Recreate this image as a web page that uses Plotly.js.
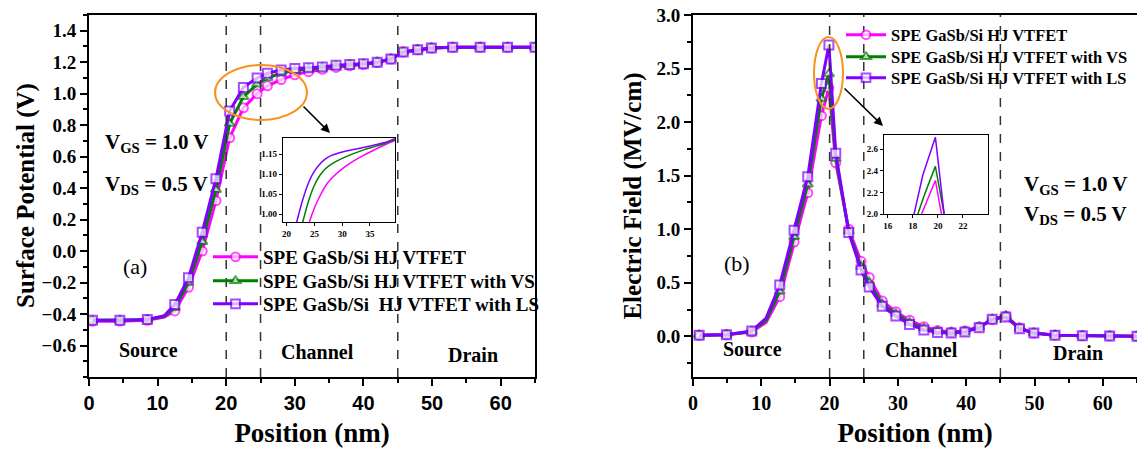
<!DOCTYPE html>
<html>
<head>
<meta charset="utf-8">
<script src="https://cdn.plot.ly/plotly-3.0.1.min.js"></script>
<style>html,body{margin:0;padding:0;background:#fff;}#chart{width:1137px;height:450px;}</style>
</head>
<body>
<div id="chart"></div>
<script>
// ---------- data ----------
const seriesNames = ['SPE GaSb/Si HJ VTFET', 'SPE GaSb/Si HJ VTFET with VS', 'SPE GaSb/Si\u00a0 HJ VTFET with LS'];
const seriesNamesB = ['SPE GaSb/Si HJ VTFET', 'SPE GaSb/Si HJ VTFET with VS', 'SPE GaSb/Si HJ VTFET with LS'];

// (a) surface potential (V) vs position (nm)
const posA = [0.5, 4.5, 8.5, 11, 12.5, 14.5, 16.5, 18.5, 20.5, 22.5, 24.5, 26, 28, 30, 32, 34, 36, 38, 40, 42, 44, 45.8, 47.9, 49.9, 53, 57, 61, 65];
const potBase = [-0.445, -0.445, -0.44, -0.42, -0.38, -0.23, 0.0, 0.32, 0.72, 0.91, 1.0, 1.05, 1.09, 1.12, 1.14, 1.155, 1.167, 1.177, 1.185, 1.198, 1.22, 1.265, 1.28, 1.29, 1.295, 1.295, 1.295, 1.295];
const potVS   = [-0.44, -0.44, -0.437, -0.415, -0.36, -0.2, 0.06, 0.39, 0.81, 0.98, 1.06, 1.10, 1.13, 1.148, 1.158, 1.167, 1.175, 1.182, 1.188, 1.2, 1.22, 1.265, 1.28, 1.29, 1.295, 1.295, 1.295, 1.295];
const potLS   = [-0.44, -0.44, -0.435, -0.41, -0.34, -0.17, 0.12, 0.46, 0.89, 1.04, 1.10, 1.13, 1.15, 1.16, 1.165, 1.17, 1.18, 1.185, 1.19, 1.20, 1.22, 1.265, 1.28, 1.29, 1.295, 1.295, 1.295, 1.295];
const markA = [1,1,1,0,1,1,1,1,1,1,1,1,1,1,1,1,1,1,1,1,1,1,1,1,1,1,1,1];

// (a) inset
const insPosA = [20, 21, 22, 23, 24, 25, 26, 27, 28, 30, 32, 34, 36, 38, 39.5];
const insPotBase = [0.72, 0.79, 0.86, 0.92, 0.975, 1.015, 1.045, 1.07, 1.088, 1.113, 1.132, 1.148, 1.162, 1.175, 1.184];
const insPotVS   = [0.8, 0.87, 0.93, 0.985, 1.035, 1.072, 1.097, 1.113, 1.124, 1.139, 1.151, 1.161, 1.169, 1.178, 1.186];
const insPotLS   = [0.87, 0.93, 0.99, 1.04, 1.08, 1.107, 1.125, 1.138, 1.146, 1.155, 1.161, 1.167, 1.173, 1.18, 1.188];

// (b) electric field (MV/cm) vs position (nm)
const posB = [0.9, 4.9, 8.6, 10.7, 12.7, 14.8, 16.8, 18.8, 19.9, 20.9, 22.8, 24.6, 25.8, 27.7, 29.7, 31.7, 33.8, 35.8, 37.8, 39.8, 41.9, 43.8, 45.8, 47.8, 49.9, 53, 57, 61, 65];
const efBase = [0.01, 0.015, 0.04, 0.13, 0.37, 0.88, 1.34, 2.06, 2.32, 1.62, 1.0, 0.7, 0.55, 0.33, 0.23, 0.15, 0.09, 0.055, 0.04, 0.05, 0.09, 0.155, 0.19, 0.08, 0.03, 0.01, 0.005, 0.003, 0];
const efVS   = [0.01, 0.015, 0.045, 0.15, 0.42, 0.93, 1.42, 2.22, 2.45, 1.66, 0.98, 0.65, 0.5, 0.3, 0.21, 0.13, 0.075, 0.045, 0.035, 0.045, 0.085, 0.16, 0.19, 0.075, 0.03, 0.01, 0.005, 0.003, 0];
const efLS   = [0.01, 0.015, 0.05, 0.17, 0.48, 0.99, 1.49, 2.36, 2.72, 1.71, 0.97, 0.62, 0.46, 0.28, 0.19, 0.11, 0.06, 0.035, 0.03, 0.04, 0.08, 0.16, 0.18, 0.07, 0.03, 0.01, 0.005, 0.003, 0];
const markB = [1,1,1,0,1,1,1,1,1,1,1,1,1,1,1,1,1,1,1,1,1,1,1,1,1,1,1,1,1];

// (b) inset
const insPosBBase = [18.2, 18.7, 19.8, 20.3, 20.6];
const insEfBase   = [1.8, 2.0, 2.31, 2.0, 1.8];
const insPosBVS   = [17.8, 18.4, 19.0, 19.8, 20.5, 20.8];
const insEfVS     = [1.75, 2.0, 2.2, 2.44, 2.0, 1.8];
const insPosBLS   = [17.6, 18.1, 18.8, 19.8, 20.5, 20.8];
const insEfLS     = [1.7, 2.0, 2.36, 2.71, 2.0, 1.7];

const tickA_x = [0, 10, 20, 30, 40, 50, 60];
const tickA_y = [-0.6, -0.4, -0.2, 0.0, 0.2, 0.4, 0.6, 0.8, 1.0, 1.2, 1.4];
const tickB_y = [0.0, 0.5, 1.0, 1.5, 2.0, 2.5, 3.0];
const regionBounds = [20, 25, 45];

// ---------- styling ----------
const colors = ['#FF00FF', '#008000', '#7F00FF'];
const symbols = ['circle', 'triangle-up', 'square'];
const SERIF = 'Liberation Serif, Times New Roman, serif';
const SANS = 'Liberation Sans, Arial, sans-serif';
const W = 1137, H = 450;
const px = v => v / W, py = v => (H - v) / H;

const legA = ['legend', 'legend3', 'legend4'];
const legB = ['legend2', 'legend5', 'legend6'];
const traces = [];
const aY = [potBase, potVS, potLS];
const bY = [efBase, efVS, efLS];
for (let i = 0; i < 3; i++) {
  traces.push({
    x: posA, y: aY[i], xaxis: 'x', yaxis: 'y', type: 'scatter', mode: 'lines+markers',
    name: seriesNames[i], legend: legA[i],
    line: {color: colors[i], width: 3},
    marker: {symbol: symbols[i], size: markA.map(m => m ? 9 : 0), color: 'white', line: {color: colors[i], width: 2}}
  });
}
for (let i = 0; i < 3; i++) {
  traces.push({
    x: posB, y: bY[i], xaxis: 'x2', yaxis: 'y2', type: 'scatter', mode: 'lines+markers',
    name: seriesNamesB[i], legend: legB[i],
    line: {color: colors[i], width: 3},
    marker: {symbol: symbols[i], size: markB.map(m => m ? 9 : 0), color: 'white', line: {color: colors[i], width: 2}}
  });
}
const insA = [insPotBase, insPotVS, insPotLS];
for (let i = 0; i < 3; i++) {
  traces.push({x: insPosA, y: insA[i], xaxis: 'x3', yaxis: 'y3', type: 'scatter', mode: 'lines',
    showlegend: false, line: {color: colors[i], width: 1.5, shape: 'spline', smoothing: 0.8}});
}
const insBx = [insPosBBase, insPosBVS, insPosBLS];
const insBy = [insEfBase, insEfVS, insEfLS];
for (let i = 0; i < 3; i++) {
  traces.push({x: insBx[i], y: insBy[i], xaxis: 'x4', yaxis: 'y4', type: 'scatter', mode: 'lines',
    showlegend: false, line: {color: colors[i], width: 1.5}});
}

function mainAxis(extra) {
  return Object.assign({
    showgrid: false, zeroline: false, showline: true, linecolor: 'black', linewidth: 2, mirror: true,
    ticks: 'outside', ticklen: 7, tickwidth: 2, tickcolor: 'black'
  }, extra);
}
function insetAxis(extra) {
  return Object.assign({
    showgrid: false, zeroline: false, showline: true, linecolor: 'black', linewidth: 1.2, mirror: true,
    ticks: 'outside', ticklen: 3, tickwidth: 1, tickcolor: 'black',
    tickfont: {family: SERIF, size: 9, weight: 'bold', color: 'black'}
  }, extra);
}

const shapes = [];
regionBounds.forEach(b => {
  shapes.push({type: 'line', xref: 'x', yref: 'y domain', x0: b, x1: b, y0: 0, y1: 1, line: {color: '#333', width: 1.5, dash: 'dash'}});
  shapes.push({type: 'line', xref: 'x2', yref: 'y2 domain', x0: b, x1: b, y0: 0, y1: 1, line: {color: '#333', width: 1.5, dash: 'dash'}});
});
shapes.push({type: 'circle', xref: 'paper', yref: 'paper', x0: px(215), x1: px(307), y0: py(120), y1: py(65), line: {color: '#F7931E', width: 2}});
shapes.push({type: 'circle', xref: 'paper', yref: 'paper', x0: px(814), x1: px(843), y0: py(109), y1: py(37), line: {color: '#F7931E', width: 2}});

const bold = (size) => ({family: SERIF, size: size, weight: 'bold', color: 'black'});
function label(text, x, y, size, anchor, weight) {
  return {text: text, xref: 'paper', yref: 'paper', x: px(x), y: py(y), xanchor: anchor || 'center', yanchor: 'middle',
    showarrow: false, font: {family: SERIF, size: size, weight: weight || 'bold', color: 'black'}};
}
const yTitleA = label('Surface Potential (V)', 26, 196, 25);
yTitleA.textangle = -90;
const annotations = [
  yTitleA,
  label('V<sub>GS</sub> = 1.0 V', 103, 143, 21, 'left'),
  label('V<sub>DS</sub> = 0.5 V', 103, 185, 21, 'left'),
  label('V<sub>GS</sub> = 1.0 V', 1022, 185, 21, 'left'),
  label('V<sub>DS</sub> = 0.5 V', 1022, 215, 21, 'left'),
  label('(a)', 135, 267, 22, 'center', 'normal'),
  label('(b)', 737, 263, 22, 'center', 'normal'),
  label('Source', 148, 350, 20), label('Channel', 317, 352, 20), label('Drain', 473, 355, 20),
  label('Source', 752, 349, 20), label('Channel', 921, 350, 20), label('Drain', 1078, 353, 20),
  {text: '', xref: 'paper', yref: 'paper', x: px(330), y: py(133), ax: -28, ay: -28, axref: 'pixel', ayref: 'pixel',
   showarrow: true, arrowhead: 2, arrowsize: 1.2, arrowwidth: 1.5, arrowcolor: 'black'},
  {text: '', xref: 'paper', yref: 'paper', x: px(883), y: py(126), ax: -40, ay: -39, axref: 'pixel', ayref: 'pixel',
   showarrow: true, arrowhead: 2, arrowsize: 1.2, arrowwidth: 1.5, arrowcolor: 'black'}
];

function legendAt(x, yc, size, iw) {
  return {x: px(x), y: py(yc), xanchor: 'left', yanchor: 'middle', bgcolor: 'rgba(0,0,0,0)', borderwidth: 0,
    font: {family: SERIF, size: size, weight: 'bold', color: 'black'}, itemwidth: iw, tracegroupgap: 0};
}

const minorX = {ticks: 'outside', ticklen: 4, tickwidth: 2, tickcolor: 'black', dtick: 5, tick0: 0, showgrid: false};
const layout = {
  width: W, height: H, margin: {l: 0, r: 0, t: 0, b: 0},
  paper_bgcolor: 'white', plot_bgcolor: 'white', showlegend: true,
  xaxis: mainAxis({domain: [px(89), px(535)], anchor: 'y', range: [0, 65], tickvals: tickA_x, minor: minorX,
    tickfont: {family: SANS, size: 20, weight: 'bold', color: 'black'},
    title: {text: 'Position (nm)', font: bold(27), standoff: 10}}),
  yaxis: mainAxis({domain: [py(377), py(15)], anchor: 'x', range: [-0.8, 1.5], tickvals: tickA_y, tickformat: '.1f',
    minor: {ticks: 'outside', ticklen: 4, tickwidth: 2, tickcolor: 'black', dtick: 0.1, tick0: 0, showgrid: false},
    tickfont: bold(19)}),
  xaxis2: mainAxis({domain: [px(693), 1], anchor: 'y2', range: [0, 65], tickvals: tickA_x, minor: minorX,
    tickfont: bold(20),
    title: {text: 'Position (nm)', font: bold(27), standoff: 10}}),
  yaxis2: mainAxis({domain: [py(377), py(15)], anchor: 'x2', range: [-0.38, 3.0], tickvals: tickB_y, tickformat: '.1f',
    minor: {ticks: 'outside', ticklen: 4, tickwidth: 2, tickcolor: 'black', dtick: 0.25, tick0: 0, showgrid: false},
    tickfont: bold(19),
    title: {text: 'Electric Field (MV/cm)', font: bold(25), standoff: 8}}),
  xaxis3: insetAxis({domain: [px(283), px(395)], anchor: 'y3', range: [19.35, 39.5], tickvals: [20, 25, 30, 35]}),
  yaxis3: insetAxis({domain: [py(222), py(138)], anchor: 'x3', range: [0.98, 1.19], tickvals: [1.00, 1.05, 1.10, 1.15], tickformat: '.2f'}),
  xaxis4: insetAxis({domain: [px(884), px(988)], anchor: 'y4', range: [15.7, 24], tickvals: [16, 18, 20, 22]}),
  yaxis4: insetAxis({domain: [py(214), py(135)], anchor: 'x4', range: [2.0, 2.73], tickvals: [2.0, 2.2, 2.4, 2.6], tickformat: '.1f'}),
  legend:  legendAt(208, 257, 19, 45),
  legend3: legendAt(208, 281, 19, 45),
  legend4: legendAt(208, 304, 19, 45),
  legend2: legendAt(841, 35, 16.5, 40),
  legend5: legendAt(841, 57, 16.5, 40),
  legend6: legendAt(841, 78, 16.5, 40),
  shapes: shapes,
  annotations: annotations
};

Plotly.newPlot('chart', traces, layout, {displayModeBar: false, staticPlot: true});
</script>
</body>
</html>
